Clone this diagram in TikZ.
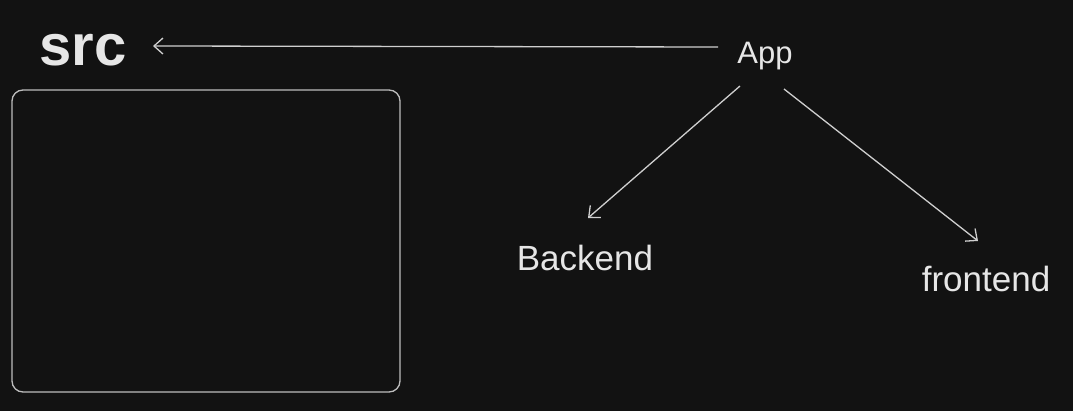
\documentclass[tikz,border=0pt]{standalone}
\usepackage{fontspec}
\setmainfont{Liberation Sans}
\usetikzlibrary{arrows.meta,calc}
\definecolor{bgc}{HTML}{121212}
\definecolor{ink}{HTML}{E6E6E6}
\definecolor{linec}{HTML}{CFCFCF}
\definecolor{boxc}{HTML}{BDBDBD}
\begin{document}
\begin{tikzpicture}[x=1pt,y=-1pt,
  lbl/.style={text=ink, inner sep=0pt, font=\fontsize{31}{31}\selectfont},
  big/.style={lbl, font=\fontsize{35}{35}\selectfont},
  arr/.style={draw=linec, line width=1.3pt, -{Straight Barb[length=9pt,width=16pt,line width=1.3pt]}}]
  \fill[bgc] (0,0) rectangle (1073,411);
  \useasboundingbox (0,0) rectangle (1073,411);
  \node[lbl, font=\bfseries\fontsize{58}{58}\selectfont] (src) at (83,50) {src};
  \node[lbl] (app) at (765,56) {App};
  \node[big] (backend) at (585,258) {Backend};
  \node[big] (frontend) at (986,279) {frontend};
  \draw[draw=boxc, line width=1.3pt, rounded corners=11pt] (12,90) rectangle (400,392);
  \draw[arr] ($(app)+(-47,-9)$) -- ($(src)+(70,-4)$);
  \draw[arr] ($(app)+(-25,30)$) -- ($(backend)+(3,-40)$);
  \draw[arr] ($(app)+(19,33)$) -- ($(frontend)+(-8,-38)$);
\end{tikzpicture}
\end{document}
